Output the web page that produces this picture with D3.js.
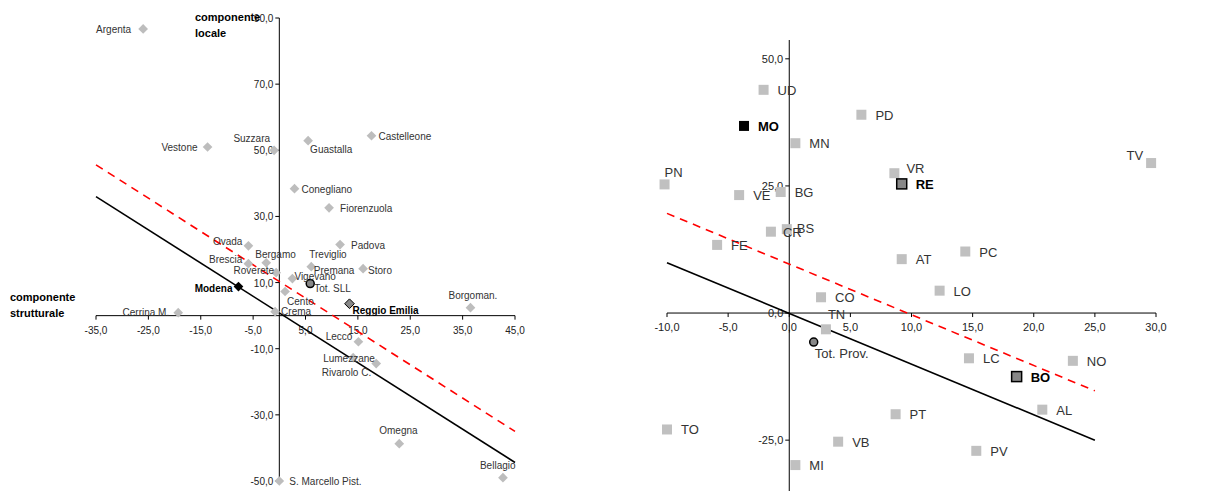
<!DOCTYPE html>
<html><head><meta charset="utf-8">
<script src="https://cdn.jsdelivr.net/npm/d3@7"></script>
<style>body{margin:0;background:#fff}text{font-family:"Liberation Sans",Arial,sans-serif}</style>
</head><body><svg id="c" width="1228" height="497"></svg>
<script>
// left panel: local labour systems (SLL)
const sllNames = ['Argenta','Vestone','Suzzara','Guastalla','Castelleone','Conegliano','Fiorenzuola','Padova','Ovada','Bergamo','Brescia','Roverete','Treviglio','Premana','Storo','Vigevano','Tot. SLL','Modena','Cento','Reggio Emilia','Borgoman.','Cerrina M.','Crema','Lecco','Lumezzane','Rivarolo C.','Omegna','Bellagio','S. Marcello Pist.'];
const sllX = [-26,-13.7,-1,5.5,17.6,2.9,9.5,11.6,-5.9,-2.5,-5.9,-0.6,6.1,6.4,16,2.5,5.9,-7.8,1.1,13.4,36.5,-19.3,-0.8,15.1,14.1,18.5,22.9,42.7,0];
const sllY = [86.7,51,50,52.9,54.4,38.4,32.6,21.5,21.1,16,15.7,13,14.8,14.2,14.2,11.2,9.7,8.8,7.3,3.6,2.4,0.9,1.2,-7.9,-12.7,-14.5,-38.7,-49,-50];
const sllType = ['p','p','p','p','p','p','p','p','p','p','p','p','p','x','p','p','tot','hi','p','hi2','p','p','p','p','p','p','p','p','p'];
const sllXTicks = [-35,-25,-15,-5,5,15,25,35,45];
const sllYTicks = [-50,-30,-10,10,30,50,70,90];
const sllBlack = [[-35,36],[45,-44.4]];
const sllRed = [[-35,45.6],[45,-35]];

// right panel: provinces
const provNames = ['UD','MO','PD','MN','TV','PN','VR','RE','VE','BG','CR','BS','FE','PC','AT','LO','CO','TN','Tot. Prov.','LC','NO','BO','AL','PT','TO','VB','PV','MI'];
const provX = [-2.1,-3.7,5.9,0.5,29.6,-10.2,8.6,9.2,-4.1,-0.7,-1.5,-0.2,-5.9,14.4,9.2,12.3,2.6,3.0,2.0,14.7,23.2,18.6,20.7,8.7,-10,4.0,15.3,0.5];
const provY = [43.9,36.8,39,33.4,29.5,25.3,27.5,25.4,23.2,23.8,16,16.5,13.4,12.1,10.6,4.4,3.1,-3.2,-5.7,-8.9,-9.4,-12.5,-19,-19.9,-22.9,-25.3,-27.1,-29.9];
const provType = ['p','hi','p','p','p','p','p','hi2','p','p','p','p','p','p','p','p','p','p','tot','p','p','hi2','p','p','p','p','p','p'];
const provXTicks = [-10,-5,0,5,10,15,20,25,30];
const provYTicks = [-25,0,25,50];
const provBlack = [[-10,9.9],[25,-25]];
const provRed = [[-10,19.6],[25,-15.3]];

// label placement [dx, dy, anchor]
const sllLab = {
  'Argenta':[-12,4,'end'],'Vestone':[-10,4,'end'],'Suzzara':[-4,-8,'end'],'Guastalla':[2,12,'start'],
  'Castelleone':[7,4,'start'],'Conegliano':[7,4,'start'],'Fiorenzuola':[11,4,'start'],'Padova':[11,4,'start'],
  'Ovada':[-6,-1,'end'],'Bergamo':[-11,-5,'start'],'Brescia':[-6,-1,'end'],'Roverete':[-2,1,'end'],
  'Treviglio':[-2,-9,'start'],'Premana':[1,5,'start'],'Storo':[5,5,'start'],'Vigevano':[2,1,'start'],
  'Tot. SLL':[4,8,'start'],'Modena':[-6,5,'end'],'Cento':[2,13,'start'],'Reggio Emilia':[3,10,'start'],
  'Borgoman.':[-22,-9,'start'],'Cerrina M.':[-9,3,'end'],'Crema':[6,3,'start'],'Lecco':[-6,-2,'end'],
  'Lumezzane':[-30,4,'start'],'Rivarolo C.':[-5,12,'end'],'Omegna':[-20,-10,'start'],'Bellagio':[-23,-9,'start'],
  'S. Marcello Pist.':[10,4,'start']};
const provLab = {'TV':[-8,-3,'end'],'PN':[0,-7,'start'],'VR':[12,0,'start'],'TN':[2,-10,'start'],
  'Tot. Prov.':[1,16,'start'],'CR':[12,5,'start'],'BS':[10,4,'start']};

const svg = d3.select('#c');

function panel(o) {
  const x = d3.scaleLinear().domain(o.xd).range(o.xr);
  const y = d3.scaleLinear().domain(o.yd).range(o.yr);
  const g = svg.append('g');
  const fmt = v => d3.format('.1f')(v).replace('.', ',').replace('−','-');
  // x axis
  g.append('line').attr('x1', x(o.xd[0])).attr('x2', x(o.xd[1])).attr('y1', y(0)).attr('y2', y(0)).attr('stroke', '#000');
  o.xt.forEach(t => {
    g.append('line').attr('x1', x(t)).attr('x2', x(t)).attr('y1', y(0)).attr('y2', y(0) + 4).attr('stroke', '#000');
    g.append('text').attr('x', x(t)).attr('y', y(0) + o.xtdy).attr('text-anchor', 'middle').attr('font-size', o.tfs).attr('fill', '#222').text(fmt(t));
  });
  // y axis
  g.append('line').attr('x1', x(0)).attr('x2', x(0)).attr('y1', y(o.yd[0])).attr('y2', y(o.yd[1])).attr('stroke', '#000');
  o.yt.forEach(t => {
    g.append('line').attr('x1', x(0) - 4).attr('x2', x(0)).attr('y1', y(t)).attr('y2', y(t)).attr('stroke', '#000');
    g.append('text').attr('x', x(0) - 6).attr('y', y(t) + 4).attr('text-anchor', 'end').attr('font-size', o.tfs).attr('fill', '#222').text(fmt(t));
  });
  // lines
  const ln = d3.line().x(d => x(d[0])).y(d => y(d[1]));
  g.append('path').attr('d', ln(o.black)).attr('stroke', '#000').attr('stroke-width', 1.6).attr('fill', 'none');
  g.append('path').attr('d', ln(o.red)).attr('stroke', '#f00').attr('stroke-width', 1.6).attr('stroke-dasharray', '8,6').attr('fill', 'none');
  // points
  o.names.forEach((n, i) => {
    const px = x(o.xs[i]), py = y(o.ys[i]), tp = o.types[i];
    if (tp === 'x') return;
    if (tp === 'tot') {
      g.append('circle').attr('cx', px).attr('cy', py).attr('r', 4).attr('fill', '#888').attr('stroke', '#000').attr('stroke-width', 1.5);
    } else if (o.shape === 'diamond') {
      const fill = tp === 'hi' ? '#000' : tp === 'hi2' ? '#888' : '#bdbdbd';
      g.append('path').attr('d', d3.symbol(d3.symbolDiamond2, 60)()).attr('transform', `translate(${px},${py})`)
        .attr('fill', fill).attr('stroke', tp === 'hi2' ? '#000' : 'none');
    } else {
      const s = 10;
      const fill = tp === 'hi' ? '#000' : tp === 'hi2' ? '#888' : '#c0c0c0';
      g.append('rect').attr('x', px - s / 2).attr('y', py - s / 2).attr('width', s).attr('height', s)
        .attr('fill', fill).attr('stroke', tp === 'hi2' ? '#000' : 'none').attr('stroke-width', 1.5);
    }
  });
  // labels on top of all markers
  o.names.forEach((n, i) => {
    const px = x(o.xs[i]), py = y(o.ys[i]), tp = o.types[i];
    const l = o.lab[n] || o.deflab;
    const bold = tp === 'hi' || tp === 'hi2';
    g.append('text').attr('x', px + l[0]).attr('y', py + l[1]).attr('text-anchor', l[2]).attr('font-size', o.fs)
      .attr('font-weight', bold ? 'bold' : 'normal').attr('fill', bold ? '#000' : '#333').text(n);
  });
  return g;
}

panel({xd: [-35, 45], xr: [96, 515], yd: [-50, 90], yr: [481, 18], xt: sllXTicks, yt: sllYTicks, xtdy: 18, tfs: 10, fs: 10,
  names: sllNames, xs: sllX, ys: sllY, types: sllType, black: sllBlack, red: sllRed, shape: 'diamond', lab: sllLab, deflab: [7, 4, 'start']});
panel({xd: [-10, 30], xr: [667, 1156], yd: [-35, 53.7], yr: [491, 40], xt: provXTicks, yt: provYTicks, xtdy: 18, tfs: 11, fs: 13,
  names: provNames, xs: provX, ys: provY, types: provType, black: provBlack, red: provRed, shape: 'square', lab: provLab, deflab: [14, 5, 'start']});

svg.append('text').attr('x', 195).attr('y', 21).attr('font-size', 11).attr('font-weight', 'bold').text('componente');
svg.append('text').attr('x', 195).attr('y', 37).attr('font-size', 11).attr('font-weight', 'bold').text('locale');
svg.append('text').attr('x', 10).attr('y', 301).attr('font-size', 11).attr('font-weight', 'bold').text('componente');
svg.append('text').attr('x', 10).attr('y', 317).attr('font-size', 11).attr('font-weight', 'bold').text('strutturale');
</script></body></html>
